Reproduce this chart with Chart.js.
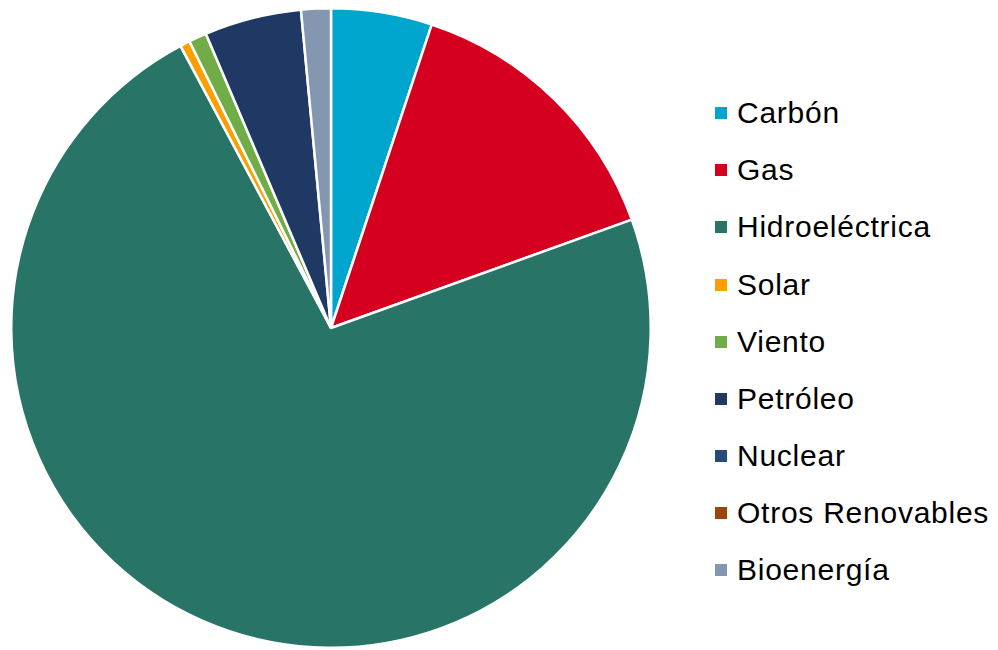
<!DOCTYPE html>
<html>
<head>
<meta charset="utf-8">
<script src="https://cdn.jsdelivr.net/npm/chart.js@4.4.0/dist/chart.umd.min.js"></script>
<style>
  body { margin: 0; background: #fff; }
  #wrap { position: absolute; left: 0; top: 0; width: 652px; height: 650px; }
  #legend { position: absolute; left: 0; top: 0; font-family: "Liberation Sans", Arial, sans-serif; }
  .item { position: absolute; left: 715px; height: 57px; line-height: 57px; white-space: nowrap; font-size: 30px; letter-spacing: 0.75px; color: #000; }
  .box { position: absolute; left: 0; top: 23px; width: 12px; height: 12px; }
  .txt { position: absolute; left: 22px; top: 0; }
</style>
</head>
<body>
<div id="wrap"><canvas id="pie"></canvas></div>
<div id="legend"></div>
<script>
// Datos
const fuentes = ["Carbón", "Gas", "Hidroeléctrica", "Solar", "Viento", "Petróleo", "Nuclear", "Otros Renovables", "Bioenergía"];
const participacion = [5.1, 14.4, 72.7, 0.5, 0.9, 4.9, 0, 0, 1.5];
const colores = ["#00A5CE", "#D50020", "#287567", "#FF9E00", "#70AD47", "#203864", "#264A7E", "#9C460D", "#8497B0"];

const ctx = document.getElementById("pie").getContext("2d");
const chart = new Chart(ctx, {
  type: "pie",
  data: {
    labels: fuentes,
    datasets: [{
      data: participacion,
      backgroundColor: colores,
      borderColor: "#ffffff",
      borderWidth: 2.5
    }]
  },
  options: {
    responsive: true,
    maintainAspectRatio: false,
    animation: false,
    layout: { padding: { left: 10, right: 0, top: 7, bottom: 1 } },
    plugins: {
      legend: { display: false },
      tooltip: { enabled: false }
    }
  }
});

// Leyenda
const legend = document.getElementById("legend");
chart.options.plugins.legend.labels.generateLabels(chart).forEach((it, i) => {
  const row = document.createElement("div");
  row.className = "item";
  row.style.top = (112.7 + i * 57.1 - 28.5) + "px";
  row.innerHTML = '<span class="box" style="background:' + it.fillStyle + '"></span><span class="txt">' + it.text + '</span>';
  legend.appendChild(row);
});
</script>
</body>
</html>
